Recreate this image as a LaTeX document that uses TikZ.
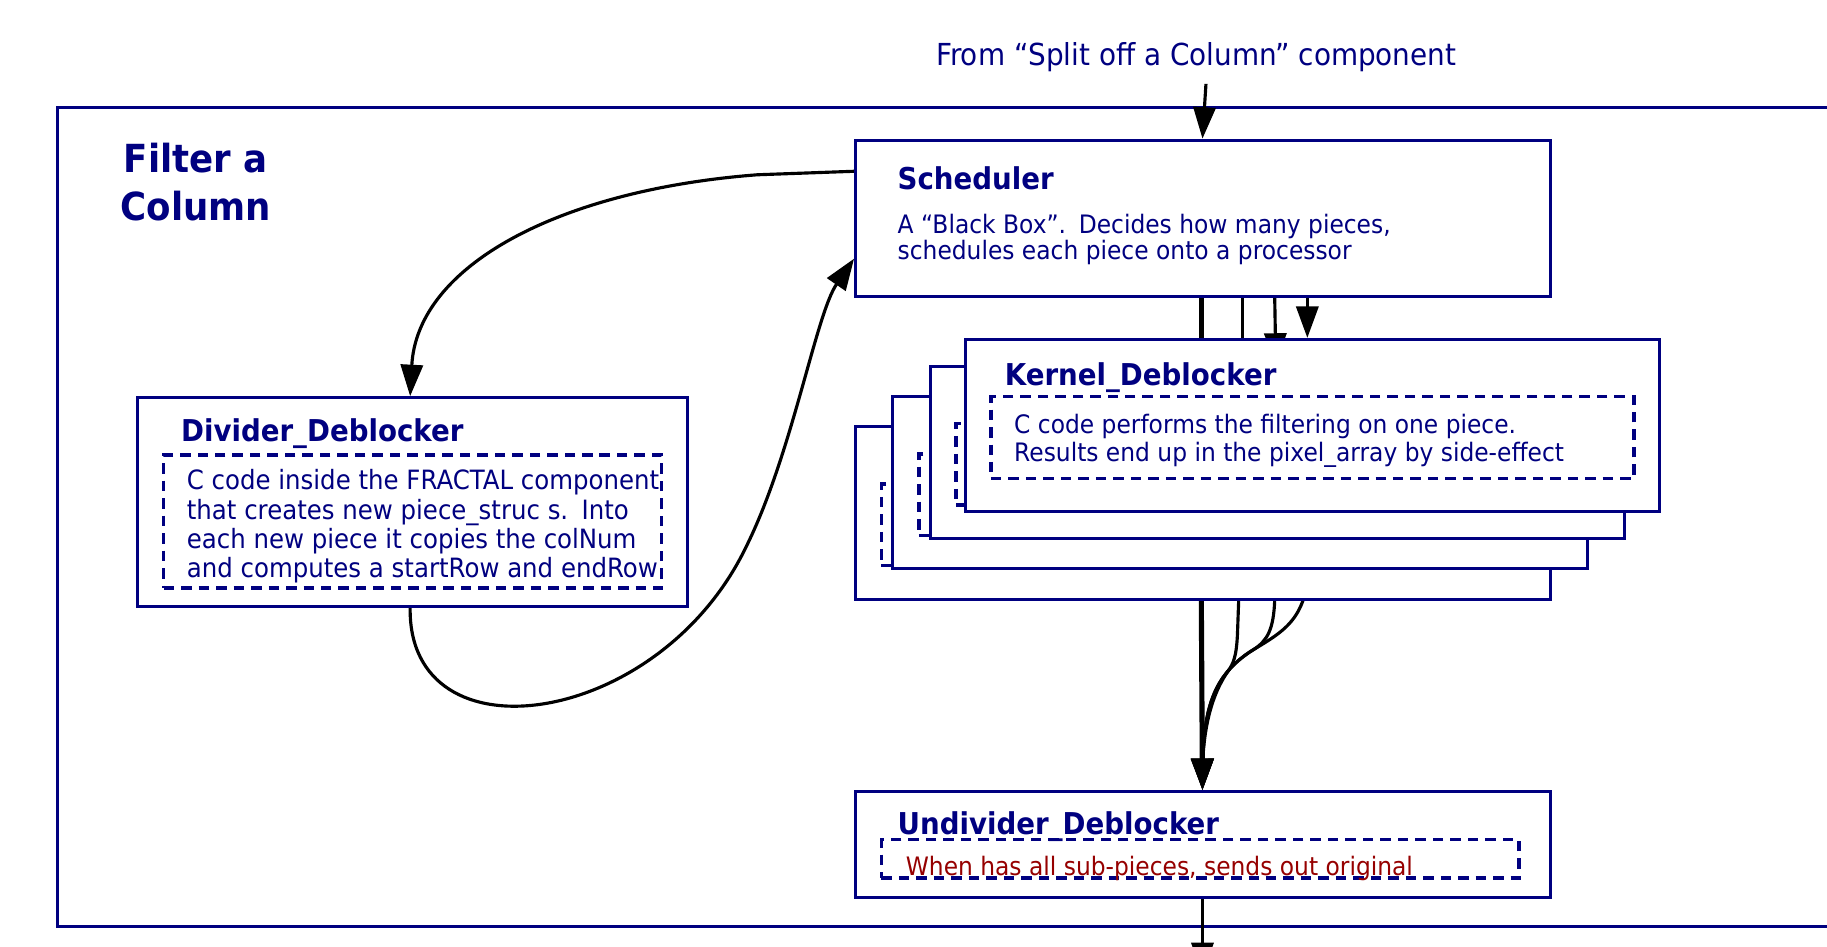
\documentclass[tikz,border=0pt]{standalone}
\usepackage{fontspec}
\setmainfont{DejaVu Sans}[FakeStretch=0.92]
\usetikzlibrary{arrows.meta,calc}
\definecolor{navy}{RGB}{0,0,128}
\definecolor{darkred}{RGB}{150,0,0}
\pgfdeclarelayer{frame}
\pgfdeclarelayer{wires}
\pgfsetlayers{frame,wires,main}
\begin{document}
\begin{tikzpicture}[x=0.5pt,y=-0.5pt,
  box/.style={draw=navy, line width=1.3pt, fill=white, inner sep=0pt, anchor=north west},
  inbox/.style={draw=navy, line width=1.5pt, dash pattern=on 4.5pt off 3pt, inner sep=0pt, anchor=north west},
  kbox/.style={box, minimum width=298pt, minimum height=74pt},
  kin/.style={inbox, minimum width=276pt, minimum height=35pt},
  title/.style={font=\fontsize{12.9pt}{15pt}\selectfont\bfseries, text=navy, inner sep=0pt, anchor=base west},
  body/.style={font=\fontsize{10.9pt}{13pt}\selectfont, text=navy, inner sep=0pt, anchor=base west},
  divbody/.style={body, font=\fontsize{11.4pt}{13pt}\selectfont},
  head/.style={font=\fontsize{16.6pt}{20pt}\selectfont\bfseries, text=navy, inner sep=0pt, anchor=base},
  wire/.style={draw=black, line width=1.35pt},
  arr/.style={wire, -{Triangle[length=13.5pt,width=9.5pt]}},
  trunk/.style={arr, line width=2.2pt}]
\useasboundingbox (0,0) rectangle (1568,812);

% enclosing component frame
\begin{pgfonlayer}{frame}
  \draw[navy, line width=1.3pt, fill=white] (49,92) rectangle (1600,795);
\end{pgfonlayer}

\node[head] (comp1) at (168,148) {Filter a};
\node[head] (comp2) at (168,189) {Column};

\node[font=\fontsize{13pt}{15pt}\selectfont, text=navy, inner sep=0pt, anchor=base west] (src) at (803,56) {From “Split off a Column” component};

% scheduler
\node[box, minimum width=298pt, minimum height=67pt] (sched) at (733,119) {};
\node[title] (schedT) at (770,163) {Scheduler};
\node[body] (schedB1) at (770,200) {A “Black Box”.\hspace{0.5em}Decides how many pieces,};
\node[body] (schedB2) at (770,223) {schedules each piece onto a processor};

% divider
\node[box, minimum width=236pt, minimum height=89.5pt] (div) at (117,340) {};
\node[inbox, minimum width=213.5pt, minimum height=57pt] (divIn) at (139,389) {};
\node[title] (divT) at (155,379) {Divider\_Deblocker};
\node[divbody] (divB1) at (160,420) {C code inside the FRACTAL component};
\node[divbody] (divB2) at (160,446) {that creates new piece\_struc s.\hspace{0.5em}Into};
\node[divbody] (divB3) at (160,471) {each new piece it copies the colNum};
\node[divbody] (divB4) at (160,496) {and computes a startRow and endRow};

% stacked kernel copies, back to front
\foreach \i/\x/\y in {1/733/365, 2/765/339, 3/797/313, 4/827/290}{
  \node[kbox] (k\i) at (\x,\y) {};
  \node[kin] (k\i in) at ($(k\i.north west)+(22,49)$) {};
}
\node[title] (kT) at (862,331) {Kernel\_Deblocker};
\node[body] (kB1) at (870,372) {C code performs the filtering on one piece.};
\node[body] (kB2) at (870,396) {Results end up in the pixel\_array by side-effect};

% undivider
\node[box, minimum width=298pt, minimum height=45.5pt] (undiv) at (733,678) {};
\node[inbox, minimum width=273.5pt, minimum height=16.5pt] (undivIn) at (755,719) {};
\node[title] (undivT) at (770,716) {Undivider\_Deblocker};
\node[body, text=darkred] (undivB) at (777,751) {When has all sub-pieces, sends out original};

\coordinate (out) at (1032,836);

\begin{pgfonlayer}{wires}
  \draw[arr] ($(src.base west)+(232,16)$) -- ($(sched.north west)+(299,0)$);
  % scheduler to divider and back
  \draw[arr] ($(sched.north west)+(0,28)$) -- (650,150)
     .. controls (480,163) and (358,228) .. ($(div.north west)+(235,0)$);
  \draw[arr] ($(div.south west)+(235,0)$) .. controls (350,655) and (565,625) .. (640,470)
     .. controls (680,390) and (700,270) .. ($(sched.north west)+(0,103)$);
  % scheduler to each kernel copy
  \draw[trunk] ($(sched.south west)+(298,0)$) -- ($(k1.north west)+(298,0)$);
  \draw[arr] ($(sched.south west)+(333,0)$) -- ($(k2.north west)+(301,0)$);
  \draw[arr] ($(sched.south west)+(361,0)$) -- ($(k3.north west)+(298,0)$);
  \draw[arr] ($(sched.south west)+(389,0)$) -- ($(k4.north west)+(295,0)$);
  % kernel copies to undivider
  \draw[trunk] ($(k1.south west)+(298,0)$) -- ($(undiv.north west)+(299,0)$);
  \draw[arr] ($(k2.south west)+(299,0)$) -- (1062,545) .. controls (1061,565) and (1058,570) .. (1054,576)
     .. controls (1044,590) and (1033,615) .. (1032,660) -- ($(undiv.north west)+(299,0)$);
  \draw[arr] ($(k3.south west)+(299,0)$) -- (1094,515) .. controls (1093,540) and (1088,550) .. (1075,558)
     .. controls (1040,580) and (1033,610) .. (1032,660) -- ($(undiv.north west)+(299,0)$);
  \draw[arr] ($(k4.south west)+(298,0)$) -- (1124,480) .. controls (1122,530) and (1105,540) .. (1075,558)
     .. controls (1040,580) and (1033,610) .. (1032,660) -- ($(undiv.north west)+(299,0)$);
  % result leaves the component
  \draw[arr] (undiv.south -| out) -- (out);
\end{pgfonlayer}
\end{tikzpicture}
\end{document}
